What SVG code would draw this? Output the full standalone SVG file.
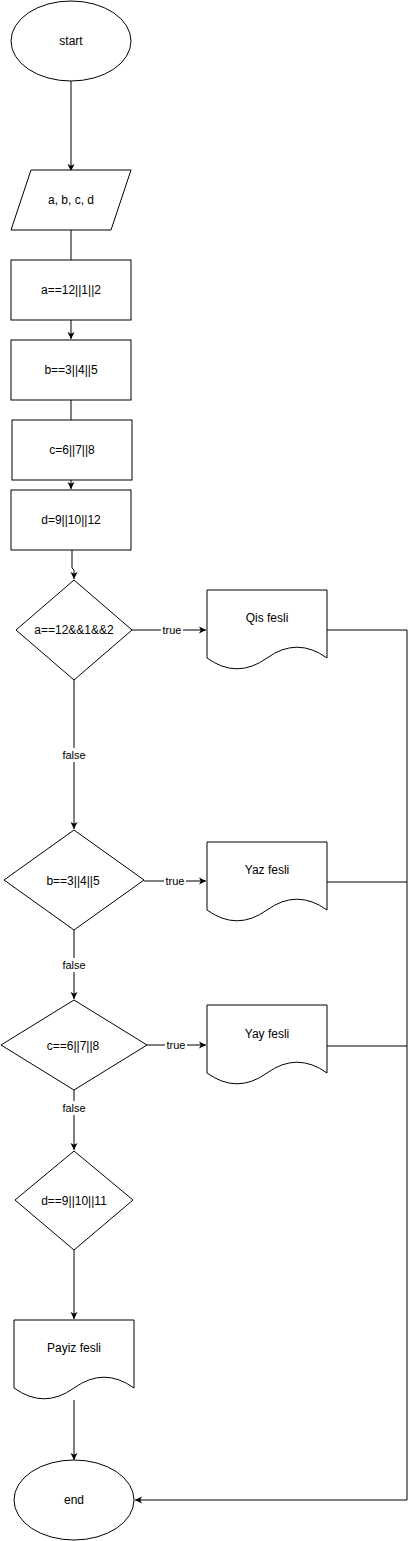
<svg xmlns="http://www.w3.org/2000/svg" width="415" height="1541" viewBox="0 0 415 1541">
<style>
.s{fill:#fff;stroke:#000;stroke-width:1}
.t{font-family:"Liberation Sans",Arial,sans-serif;font-size:12px;fill:#000;text-anchor:middle;dominant-baseline:central}
.l{font-family:"Liberation Sans",Arial,sans-serif;font-size:11px;fill:#000;text-anchor:middle;dominant-baseline:central}
.c{fill:none;stroke:#000;stroke-width:1}
.lb{fill:#fff}
</style>
<defs>
<marker id="a" markerWidth="8" markerHeight="8" refX="7" refY="4" orient="auto" markerUnits="userSpaceOnUse">
<path d="M0,0.5 L7,4 L0,7.5 L1.8,4 Z" fill="#000"/>
</marker>
</defs>
<g id="connectors">
<path class="c" d="M71,81 L71,171" marker-end="url(#a)"/>
<path class="c" d="M71,230 L71,260"/>
<path class="c" d="M71,320 L71,339" marker-end="url(#a)"/>
<path class="c" d="M71,400 L71,420"/>
<path class="c" d="M71,480 L71,489" marker-end="url(#a)"/>
<path class="c" d="M72,550 L72,568 L74,570 L74,579" marker-end="url(#a)"/>
<path class="c" d="M132,630 L206,630" marker-end="url(#a)"/>
<path class="c" d="M74,680 L74,829" marker-end="url(#a)"/>
<path class="c" d="M144,881 L206,881" marker-end="url(#a)"/>
<path class="c" d="M74,930 L74,999" marker-end="url(#a)"/>
<path class="c" d="M147,1045 L206,1045" marker-end="url(#a)"/>
<path class="c" d="M74,1090 L74,1150" marker-end="url(#a)"/>
<path class="c" d="M74,1250 L74,1319" marker-end="url(#a)"/>
<path class="c" d="M74,1400 L74,1460" marker-end="url(#a)"/>
<path class="c" d="M327,630 L407,630 L407,1500 L135,1500" marker-end="url(#a)"/>
<path class="c" d="M327,882 L407,882"/>
<path class="c" d="M327,1046 L407,1046"/>
<rect class="lb" x="161" y="623" width="22" height="14"/>
<text class="l" x="172" y="630">true</text>
<rect class="lb" x="164" y="874" width="22" height="14"/>
<text class="l" x="175" y="881">true</text>
<rect class="lb" x="165" y="1038" width="22" height="14"/>
<text class="l" x="176" y="1045">true</text>
<rect class="lb" x="61" y="748" width="26" height="14"/>
<text class="l" x="74" y="755">false</text>
<rect class="lb" x="61" y="958" width="26" height="14"/>
<text class="l" x="74" y="965">false</text>
<rect class="lb" x="61" y="1101" width="26" height="14"/>
<text class="l" x="74" y="1108">false</text>
</g>
<g id="start"><ellipse class="s" cx="71" cy="41" rx="60" ry="40"/><text class="t" x="71" y="41">start</text></g>
<g id="input"><path class="s" d="M31,170 L131,170 L111,230 L11,230 Z"/><text class="t" x="71" y="200">a, b, c, d</text></g>
<g id="r1"><rect class="s" x="11" y="260" width="120" height="60"/><text class="t" x="71" y="290">a==12||1||2</text></g>
<g id="r2"><rect class="s" x="11" y="340" width="120" height="60"/><text class="t" x="71" y="370">b==3||4||5</text></g>
<g id="r3"><rect class="s" x="12" y="420" width="120" height="60"/><text class="t" x="72" y="450">c=6||7||8</text></g>
<g id="r4"><rect class="s" x="11" y="490" width="120" height="60"/><text class="t" x="71" y="520">d=9||10||12</text></g>
<g id="d1"><path class="s" d="M74,580 L132,630 L74,680 L16,630 Z"/><text class="t" x="74" y="630">a==12&amp;&amp;1&amp;&amp;2</text></g>
<g id="d2"><path class="s" d="M74,830 L144,880 L74,930 L4,880 Z"/><text class="t" x="73" y="881">b==3||4||5</text></g>
<g id="d3"><path class="s" d="M74,1000 L147,1045 L74,1090 L1,1045 Z"/><text class="t" x="73" y="1046">c==6||7||8</text></g>
<g id="d4"><path class="s" d="M74,1151 L133,1200 L74,1250 L15,1200 Z"/><text class="t" x="74" y="1201">d==9||10||11</text></g>
<g id="doc1"><path class="s" d="M207,590 L327,590 L327,658 Q297,636.4 267,658 Q237,679.6 207,658 Z"/><text class="t" x="267" y="618">Qis fesli</text></g>
<g id="doc2"><path class="s" d="M207,842 L327,842 L327,910 Q297,888.4 267,910 Q237,931.6 207,910 Z"/><text class="t" x="267" y="870">Yaz fesli</text></g>
<g id="doc3"><path class="s" d="M207,1005 L327,1005 L327,1073 Q297,1051.4 267,1073 Q237,1094.6 207,1073 Z"/><text class="t" x="267" y="1034">Yay fesli</text></g>
<g id="doc4"><path class="s" d="M14,1320 L134,1320 L134,1388 Q104,1366.4 74,1388 Q44,1409.6 14,1388 Z"/><text class="t" x="74" y="1348">Payiz fesli</text></g>
<g id="end"><ellipse class="s" cx="74" cy="1500" rx="60" ry="40"/><text class="t" x="74" y="1500">end</text></g>
</svg>
